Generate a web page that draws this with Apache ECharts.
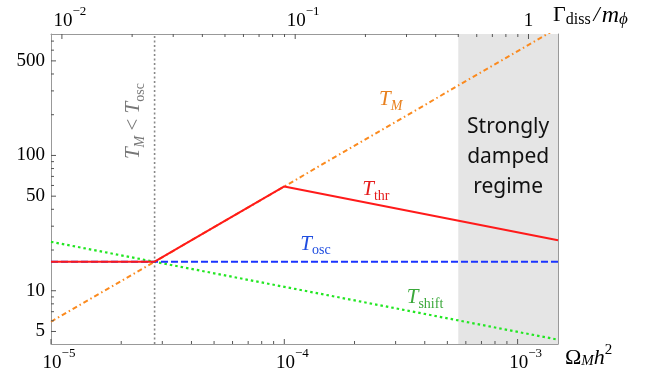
<!DOCTYPE html>
<html><head><meta charset="utf-8">
<script src="https://cdn.jsdelivr.net/npm/echarts@6/dist/echarts.min.js"></script>
<style>html,body{margin:0;padding:0;background:#fff}#c{width:649px;height:373px}</style>
</head><body><div id="c"></div>
<script>
// ---- data ----
const omegaRange = [1e-5, 1.49e-3];      // bottom axis Ω_M h^2
const gammaRange = [0.00898, 1.338];     // top axis Γ_diss/m_φ
const tRange = [4.04, 790];              // y axis T
const omegaMajor = [1e-5, 1e-4, 1e-3];
const omegaMinor = [2e-5,3e-5,4e-5,5e-5,6e-5,7e-5,8e-5,9e-5,2e-4,3e-4,4e-4,5e-4,6e-4,7e-4,8e-4,9e-4];
const gammaMajor = [0.01, 0.1, 1];
const gammaMinor = [0.02,0.03,0.04,0.05,0.06,0.07,0.08,0.09,0.2,0.3,0.4,0.5,0.6,0.7,0.8,0.9];
const tLabeled = [5, 10, 50, 100, 500];
const tMinor = [6,7,8,9,20,30,40,60,70,80,90,200,300,400,600,700];
const T_M     = [[1e-5, 5.9], [1.49e-3, 879]];
const T_thr   = [[1e-5, 16.4], [2.78e-5, 16.4], [1e-4, 59], [1.49e-3, 23.6]];
const T_osc   = [[1e-5, 16.4], [1.49e-3, 16.4]];
const T_shift = [[1e-5, 23.0], [1.49e-3, 4.35]];
const osc_boundary = 2.78e-5;            // T_M = T_osc
const damped_start = 0.5;                // Γ_diss/m_φ where strongly damped regime starts
const curveLabels = [
  {sub:'M', italicSub:true, at:[2.86e-4, 251], color:'#e8801e'},
  {sub:'thr', at:[2.47e-4, 54.2], color:'#e51c1c'},
  {sub:'osc', at:[1.36e-4, 21.5], color:'#1f4de0'},
  {sub:'shift', at:[4.01e-4, 8.63], color:'#3aa83a'}
];
const regimeText = ['Strongly', 'damped', 'regime'];

// ---- chart ----
const SERIF = '"Liberation Serif","DejaVu Serif",serif';
const chart = echarts.init(document.getElementById('c'));
const frame = {show:true, lineStyle:{color:'#999', width:1}};
const powRich = {
  pad:{width:16, fontSize:19, fontFamily:SERIF},
  b:{fontSize:19, fontFamily:SERIF, color:'#000', lineHeight:26, verticalAlign:'bottom'},
  s:{fontSize:13, fontFamily:SERIF, color:'#000', lineHeight:14, verticalAlign:'top'}
};
function powFmt(v){
  const e = Math.round(Math.log10(v));
  if (e === 0) return '{b|1}';
  return '{pad| }{b|10}{s|' + (e<0?'\u2212':'') + Math.abs(e) + '}';
}
function axis(base, labels){
  return Object.assign({
    axisLine: frame, axisTick:{show:false},
    axisLabel: labels ? labels : {show:false},
    splitLine:{show:false}, minorTick:{show:false}
  }, base);
}
// tick marks drawn inward through the axis scales
function tickSeries(kind, values, len){
  const xIdx = kind === 'top' ? 1 : 0;
  return {type:'custom', xAxisIndex:xIdx, yAxisIndex:0, silent:true, z:30, clip:false,
    data: values.map(v=>[v]),
    renderItem(params, api){
      const v = api.value(0);
      let x1,y1,x2,y2;
      if (kind === 'bottom'){ const p = api.coord([v, tRange[0]]); x1=x2=p[0]; y1=p[1]; y2=p[1]-len; }
      else if (kind === 'top'){ const p = api.coord([v, tRange[1]]); x1=x2=p[0]; y1=p[1]; y2=p[1]+len; }
      else { const p = api.coord([omegaRange[0], v]); y1=y2=p[1]; x1=p[0]; x2=p[0]+len; }
      return {type:'line', shape:{x1,y1,x2,y2}, style:{stroke:'#555', lineWidth:1}};
    }};
}
const option = {
  animation:false,
  grid:{left:51, right:91, top:34, bottom:26, containLabel:false},
  xAxis:[
    axis({type:'log', position:'bottom', min:omegaRange[0], max:omegaRange[1],
      name:'{O|Ω}{M|M}{h|h}{two|2}', nameLocation:'end', nameGap:7,
      nameTextStyle:{align:'left', verticalAlign:'middle', padding:[24,0,0,0],
        rich:{O:{fontSize:22,fontFamily:SERIF,color:'#000',lineHeight:26,verticalAlign:'bottom'},
              M:{fontSize:15,fontFamily:SERIF,fontStyle:'italic',color:'#000',lineHeight:20,verticalAlign:'bottom'},
              h:{fontSize:22,fontFamily:SERIF,fontStyle:'italic',color:'#000',lineHeight:26,verticalAlign:'bottom'},
              two:{fontSize:15,fontFamily:SERIF,color:'#000',lineHeight:14,verticalAlign:'top'}}}},
      {show:true, customValues:omegaMajor, margin:3, formatter:powFmt, rich:powRich}),
    axis({type:'log', position:'top', min:gammaRange[0], max:gammaRange[1],
      name:'{G|Γ}{d|diss}{sl|/}{m|m}{p|ϕ}', nameLocation:'end', nameGap:-5,
      nameTextStyle:{align:'left', verticalAlign:'bottom', padding:[0,0,6,0],
        rich:{G:{fontSize:22,fontFamily:SERIF,color:'#000',lineHeight:24,verticalAlign:'top'},
              d:{fontSize:16,fontFamily:SERIF,color:'#000',lineHeight:18,verticalAlign:'bottom'},
              sl:{fontSize:22,fontFamily:SERIF,fontStyle:'italic',color:'#000',lineHeight:24,verticalAlign:'top',padding:[0,2,0,3]},
              m:{fontSize:24,fontFamily:SERIF,fontStyle:'italic',color:'#000',lineHeight:24,verticalAlign:'top'},
              p:{fontSize:17,fontFamily:SERIF,fontStyle:'italic',color:'#000',lineHeight:18,verticalAlign:'bottom'}}}},
      {show:true, customValues:gammaMajor, margin:3, formatter:powFmt, rich:powRich})
  ],
  yAxis:[
    axis({type:'log', position:'left', min:tRange[0], max:tRange[1]},
      {show:true, customValues:tLabeled, margin:6, fontSize:19, fontFamily:SERIF, color:'#000', formatter:v=>String(Math.round(v))}),
    axis({type:'log', position:'right', min:tRange[0], max:tRange[1]})
  ],
  series:[
    {type:'line', xAxisIndex:1, yAxisIndex:0, data:[], silent:true, z:1,
      markArea:{silent:true, itemStyle:{color:'#e5e5e5'}, data:[[{xAxis:damped_start},{xAxis:gammaRange[1]}]]}},
    {name:'T_M = T_osc', type:'line', xAxisIndex:0, yAxisIndex:0, silent:true, z:2, showSymbol:false,
      data:[[osc_boundary, tRange[0]], [osc_boundary, tRange[1]]],
      lineStyle:{color:'#888', type:[2,2.5], width:1.6}},
    {name:'T_shift', type:'line', xAxisIndex:0, yAxisIndex:0, data:T_shift, showSymbol:false, z:3,
      lineStyle:{color:'#22e622', width:2.2, type:[2.5,3]}},
    {name:'T_M', type:'line', xAxisIndex:0, yAxisIndex:0, data:T_M, showSymbol:false, z:4,
      lineStyle:{color:'#fb8a1e', width:2, type:[5,3,1.5,3]}},
    {name:'T_osc', type:'line', xAxisIndex:0, yAxisIndex:0, data:T_osc, showSymbol:false, z:5,
      lineStyle:{color:'#1a33ff', width:2, type:[7,3]}},
    {name:'T_thr', type:'line', xAxisIndex:0, yAxisIndex:0, data:T_thr, showSymbol:false, z:6,
      lineStyle:{color:'#ff1a1a', width:2}},
    tickSeries('bottom', omegaMajor, 5),
    tickSeries('bottom', omegaMinor, 3),
    tickSeries('top', gammaMajor, 5),
    tickSeries('top', gammaMinor, 3),
    tickSeries('left', tLabeled, 5),
    tickSeries('left', tMinor, 3)
  ]
};
chart.setOption(option);

// ---- annotations anchored to data coordinates ----
function px(p){ return chart.convertToPixel({xAxisIndex:0, yAxisIndex:0}, p); }
const g = [];
curveLabels.forEach(c=>{
  const p = px(c.at);
  g.push({type:'text', x:p[0], y:p[1], z:20, style:{
    text:'{T|T}{s|' + c.sub + '}', align:'center', verticalAlign:'middle',
    rich:{T:{fontSize:21, fontFamily:SERIF, fontStyle:'italic', fill:c.color, lineHeight:24, verticalAlign:'top'},
          s:{fontSize:14, fontFamily:SERIF, fontStyle:c.italicSub?'italic':'normal', fill:c.color, lineHeight:19, verticalAlign:'bottom'}}}});
});
// rotated boundary label
const pb = px([2.29e-5, 179.5]);
g.push({type:'text', x:pb[0], y:pb[1], rotation:Math.PI/2, z:20, style:{
  text:'{T|T}{s|M}{lt| < }{T|T}{s2|osc}', align:'center', verticalAlign:'middle',
  rich:{T:{fontSize:21, fontFamily:SERIF, fontStyle:'italic', fill:'#777', lineHeight:24, verticalAlign:'top'},
        s:{fontSize:14, fontFamily:SERIF, fontStyle:'italic', fill:'#777', lineHeight:19, verticalAlign:'bottom'},
        s2:{fontSize:14, fontFamily:SERIF, fill:'#777', lineHeight:19, verticalAlign:'bottom'},
        lt:{fontSize:21, fontFamily:SERIF, fill:'#777', lineHeight:24, verticalAlign:'top'}}}});
// damped regime text: centred in the shaded region at T = 100
const xa = chart.convertToPixel({xAxisIndex:1}, damped_start);
const xb = chart.convertToPixel({xAxisIndex:1}, gammaRange[1]);
const yc = chart.convertToPixel({yAxisIndex:0}, 100);
g.push({type:'text', x:(xa+xb)/2, y:yc + 2, z:20, style:{
  text:regimeText.join('\n'), align:'center', verticalAlign:'middle',
  font:'21px "Noto Sans", sans-serif', lineHeight:30, fill:'#111'}});
chart.setOption({graphic:g});
</script></body></html>
